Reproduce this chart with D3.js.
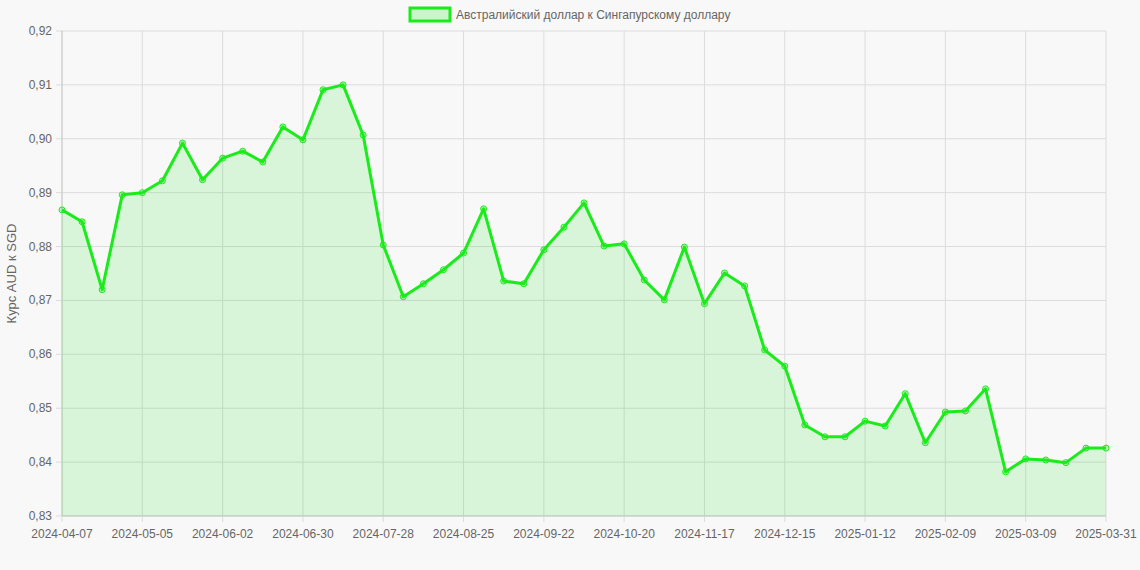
<!DOCTYPE html>
<html><head><meta charset="utf-8">
<script src="https://cdn.jsdelivr.net/npm/d3@7"></script>
<style>body{margin:0;background:#f8f8f8;font-family:"Liberation Sans",Arial,sans-serif}</style>
</head><body><svg id="c" width="1140" height="570"></svg>
<script>
const dates=["2024-04-07","2024-04-14","2024-04-21","2024-04-28","2024-05-05","2024-05-12","2024-05-19","2024-05-26","2024-06-02","2024-06-09","2024-06-16","2024-06-23","2024-06-30","2024-07-07","2024-07-14","2024-07-21","2024-07-28","2024-08-04","2024-08-11","2024-08-18","2024-08-25","2024-09-01","2024-09-08","2024-09-15","2024-09-22","2024-09-29","2024-10-06","2024-10-13","2024-10-20","2024-10-27","2024-11-03","2024-11-10","2024-11-17","2024-11-24","2024-12-01","2024-12-08","2024-12-15","2024-12-22","2024-12-29","2025-01-05","2025-01-12","2025-01-19","2025-01-26","2025-02-02","2025-02-09","2025-02-16","2025-02-23","2025-03-02","2025-03-09","2025-03-16","2025-03-23","2025-03-30","2025-03-31"];
const rates=[0.8868,0.8846,0.8720,0.8896,0.8900,0.8922,0.8992,0.8924,0.8964,0.8977,0.8957,0.9022,0.8998,0.9091,0.9100,0.9007,0.8803,0.8707,0.8731,0.8757,0.8788,0.8870,0.8736,0.8731,0.8794,0.8836,0.8881,0.8801,0.8805,0.8738,0.8701,0.8799,0.8694,0.8751,0.8727,0.8608,0.8578,0.8469,0.8447,0.8447,0.8476,0.8467,0.8527,0.8436,0.8493,0.8495,0.8536,0.8382,0.8406,0.8404,0.8399,0.8426,0.8426];
const yTicks=[0.83,0.84,0.85,0.86,0.87,0.88,0.89,0.90,0.91,0.92];
const seriesName="Австралийский доллар к Сингапурскому доллару";
const yTitle="Курс AUD к SGD";

const svg=d3.select("#c");
const L=62,R=1106,T=31,B=516;
const x=d3.scalePoint().domain(dates).range([L,R]);
const y=d3.scaleLinear().domain([0.83,0.92]).range([B,T]);
const xTicks=dates.filter((d,i)=>i%4===0||i===dates.length-1);
const fmt=v=>v.toFixed(2).replace(".",",");

const g=svg.append("g");
g.selectAll(".hg").data(yTicks).join("line").attr("x1",L-6).attr("x2",R).attr("y1",d=>y(d)).attr("y2",d=>y(d)).attr("stroke","#dcdcdc");
g.selectAll(".vg").data(xTicks).join("line").attr("x1",d=>x(d)).attr("x2",d=>x(d)).attr("y1",T).attr("y2",B+6).attr("stroke","#dcdcdc");
g.append("line").attr("x1",L).attr("x2",L).attr("y1",T).attr("y2",B).attr("stroke","#c8c8c8");
g.append("line").attr("x1",L).attr("x2",R).attr("y1",B).attr("y2",B).attr("stroke","#c8c8c8");
g.selectAll(".yl").data(yTicks).join("text").attr("x",L-10).attr("y",d=>y(d)+4).attr("text-anchor","end").attr("font-size",12).attr("fill","#666").text(fmt);
g.selectAll(".xl").data(xTicks).join("text").attr("x",d=>x(d)).attr("y",B+22).attr("text-anchor","middle").attr("font-size",12).attr("fill","#666").text(d=>d);
svg.append("text").attr("transform",`translate(16,${(T+B)/2}) rotate(-90)`).attr("text-anchor","middle").attr("font-size",13).attr("fill","#666").text(yTitle);

const green="#1aeb1a";
const data=dates.map((d,i)=>({d,v:rates[i]}));
svg.append("path").datum(data).attr("d",d3.area().x(p=>x(p.d)).y0(B).y1(p=>y(p.v))).attr("fill","rgba(30,230,30,0.14)");
svg.append("path").datum(data).attr("d",d3.line().x(p=>x(p.d)).y(p=>y(p.v))).attr("fill","none").attr("stroke",green).attr("stroke-width",3).attr("stroke-linejoin","round");
svg.selectAll(".pt").data(data).join("circle").attr("cx",p=>x(p.d)).attr("cy",p=>y(p.v)).attr("r",3).attr("fill","rgba(30,230,30,0.25)").attr("stroke",green).attr("stroke-width",1);

svg.append("rect").attr("x",410).attr("y",8).attr("width",40).attr("height",13).attr("fill","rgba(30,230,30,0.2)").attr("stroke",green).attr("stroke-width",3);
svg.append("text").attr("x",456).attr("y",19).attr("font-size",12).attr("fill","#666").text(seriesName);
</script></body></html>
